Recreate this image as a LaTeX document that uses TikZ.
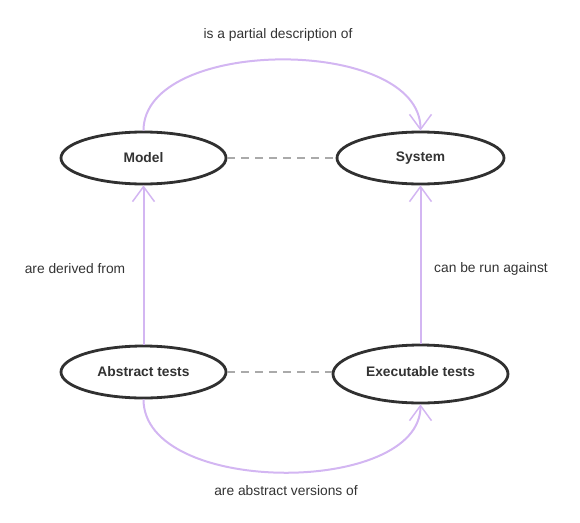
\documentclass[tikz,border=0pt]{standalone}
\usepackage{fontspec}
\setmainfont{Liberation Sans}
\usetikzlibrary{shapes.geometric,arrows.meta}
\definecolor{edgepurple}{HTML}{D3B6F2}
\definecolor{ellborder}{HTML}{303030}
\definecolor{dashgray}{HTML}{AAAAAA}
\definecolor{txt}{HTML}{333333}
\tikzset{
  ell/.style={ellipse, draw=ellborder, line width=2.8pt, fill=white, inner sep=0pt,
    font=\fontsize{13.8}{16}\selectfont\bfseries, text=txt},
  rel/.style={draw=edgepurple, line width=2pt,
    -{Straight Barb[length=15pt,width=22pt,line width=1.5pt]}},
  lbl/.style={font=\fontsize{13.8}{16}\selectfont, text=txt},
  dashlink/.style={draw=dashgray, line width=1.8pt, dash pattern=on 8pt off 6pt}
}
\begin{document}
\begin{tikzpicture}[x=1pt,y=-1pt]
\useasboundingbox (0,0) rectangle (580,522);
\node[ell, minimum width=165pt, minimum height=52pt] (model) at (143.5,158) {Model};
\node[ell, minimum width=167pt, minimum height=52pt] (system) at (420.5,158) {System};
\node[ell, minimum width=165pt, minimum height=52pt] (abs) at (143.5,372) {Abstract tests};
\node[ell, minimum width=175pt, minimum height=58pt] (exe) at (420.5,374) {\raisebox{5pt}{Executable tests}};

\draw[dashlink] (model.east) -- (system.west);
\draw[dashlink] (abs.east) -- (exe.west |- abs.east);

\draw[rel] (model.north) .. controls (143.5,36) and (420.5,36) .. (system.north);
\draw[rel] (abs.north) -- (model.south);
\draw[rel] (exe.north) -- (system.south);
\draw[rel] (abs.south) .. controls (143.5,496) and (420.5,496) .. (exe.south);

\node[lbl] (l1) at (278,35) {is a partial description of};
\node[lbl] (l2) at (75,269) {are derived from};
\node[lbl] (l3) at (491,269) {can be run against};
\node[lbl] (l4) at (286,491) {are abstract versions of};
\end{tikzpicture}
\end{document}
